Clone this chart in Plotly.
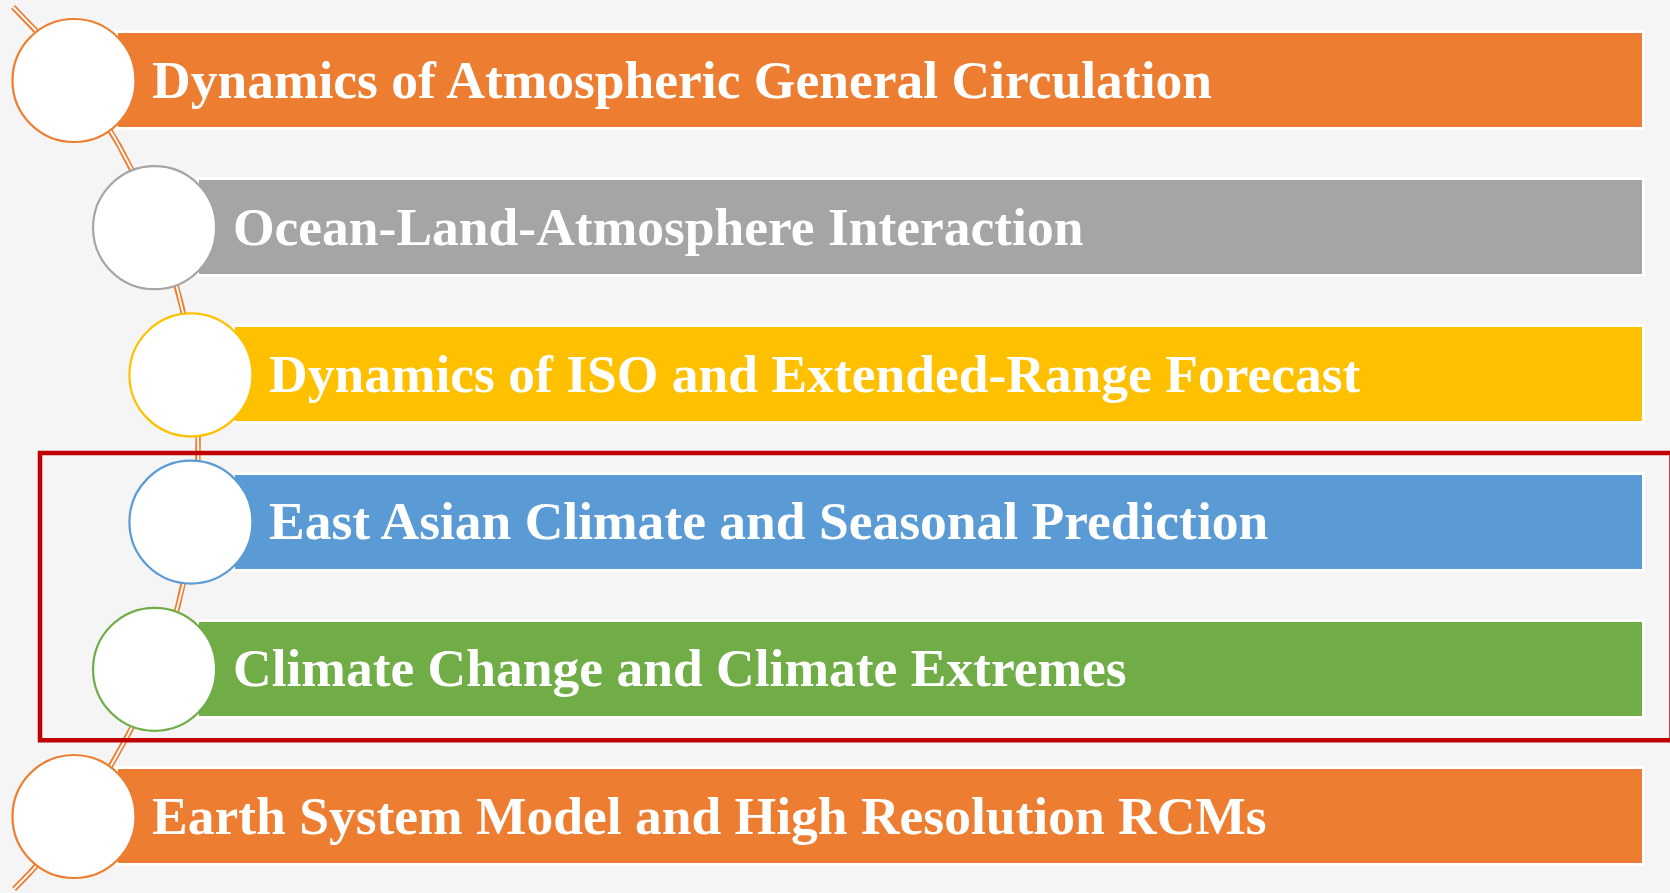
import numpy as np
import plotly.graph_objects as go

# Research themes, top to bottom
topics = [
    "Dynamics of Atmospheric General Circulation",
    "Ocean-Land-Atmosphere Interaction",
    "Dynamics of ISO and Extended-Range Forecast",
    "East Asian Climate and Seasonal Prediction",
    "Climate Change and Climate Extremes",
    "Earth System Model and High Resolution RCMs",
]
bar_colors = ["#ED7D31", "#A5A5A5", "#FFC000", "#5B9BD5", "#70AD47", "#ED7D31"]
highlighted = [3, 4]  # themes framed in red

W, H = 1670, 893
BG = "#F5F5F5"

# layout geometry (pixel-like data units)
row0, pitch = 80.5, 147.2
bar_h = 97
bar_right = 1644
circ_r = 61.5
arc_cx, arc_cy, arc_R = -423.5, 448.5, 618.8

n = len(topics)
row_y = np.array([row0 + i * pitch for i in range(n)])
# circle centres sit on the connecting arc
circ_x = arc_cx + np.sqrt(arc_R**2 - (row_y - arc_cy) ** 2)
bar_left = circ_x + 43
text_x = circ_x + 76

fig = go.Figure()

# connecting arc: double orange rule
ys = np.linspace(7, 889, 400)
xs = arc_cx + np.sqrt(arc_R**2 - (ys - arc_cy) ** 2) + 3
fig.add_trace(go.Scatter(x=xs, y=ys, mode="lines",
                         line=dict(color="#ED7D31", width=5.5),
                         hoverinfo="skip", showlegend=False))
fig.add_trace(go.Scatter(x=xs, y=ys, mode="lines",
                         line=dict(color="#FBFBFB", width=2),
                         hoverinfo="skip", showlegend=False))

# theme bars
fig.add_trace(go.Bar(
    y=row_y, x=bar_right - bar_left, base=bar_left, orientation="h",
    width=bar_h,
    marker=dict(color=bar_colors, line=dict(color="white", width=3)),
    hoverinfo="skip", showlegend=False,
))

shapes = []
for cx, cy, c in zip(circ_x, row_y, bar_colors):
    shapes.append(dict(type="circle", xref="x", yref="y", layer="above",
                       x0=cx - circ_r, x1=cx + circ_r,
                       y0=cy - circ_r, y1=cy + circ_r,
                       fillcolor="white", line=dict(color=c, width=2.2)))

# red frame around highlighted themes
top = row_y[highlighted[0]] - 69
bot = row_y[highlighted[-1]] + 71
shapes.append(dict(type="rect", xref="x", yref="y", layer="above",
                   x0=40, x1=1671.5, y0=top, y1=bot,
                   fillcolor="rgba(0,0,0,0)",
                   line=dict(color="#C00000", width=4.5)))

annotations = []
for tx, cy, t in zip(text_x, row_y, topics):
    annotations.append(dict(x=tx, y=cy - 1, xref="x", yref="y", text=t,
                            showarrow=False, xanchor="left", yanchor="middle",
                            font=dict(family="Liberation Serif", size=53.5,
                                      color="white", weight="bold")))

fig.update_layout(
    width=W, height=H, margin=dict(l=0, r=0, t=0, b=0),
    paper_bgcolor=BG, plot_bgcolor=BG,
    shapes=shapes, annotations=annotations,
    xaxis=dict(range=[0, W], visible=False, fixedrange=True),
    yaxis=dict(range=[H, 0], visible=False, fixedrange=True),
    bargap=0,
)

fig.write_html("out.html")
